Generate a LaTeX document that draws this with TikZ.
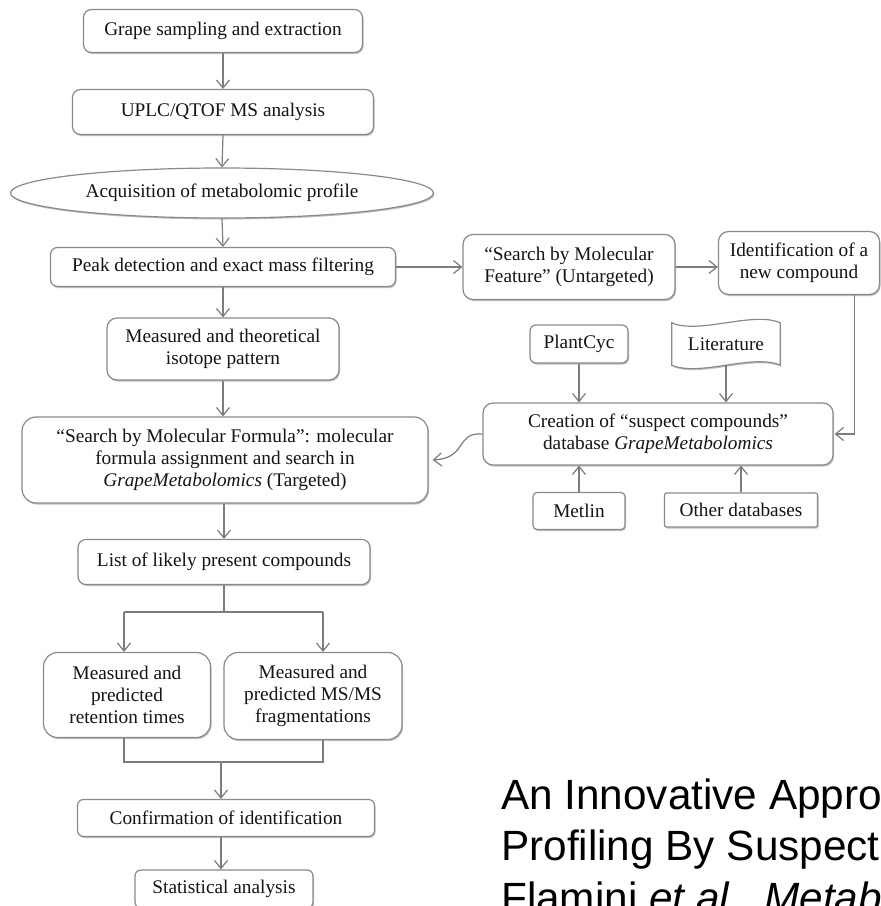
\documentclass[tikz,border=0pt]{standalone}
\usepackage{fontspec}
\setmainfont{Liberation Serif}
\newfontfamily\capfont{Liberation Sans}
\usetikzlibrary{arrows.meta,shapes.geometric,shadows}
\definecolor{boxcol}{RGB}{138,138,138}
\definecolor{linecol}{RGB}{125,125,125}
\definecolor{txtcol}{RGB}{20,20,20}
\tikzset{
  box/.style={draw=boxcol, line width=1.2pt, fill=white, rounded corners=8pt,
    align=center, inner sep=0pt, text=txtcol,
    drop shadow={shadow xshift=1pt, shadow yshift=-1.5pt, opacity=0.25, fill=black}},
  ln/.style={draw=linecol, line width=1.2pt},
  arr/.style={ln, -{Straight Barb[length=8pt,width=13pt,line width=1.2pt]}},
  captxt/.style={font=\capfont\fontsize{42.3}{52}\selectfont, anchor=base west, inner sep=0pt, text=black}
}
\begin{document}
\begin{tikzpicture}[x=1pt, y=-1pt, font=\fontsize{19.3}{22}\selectfont]
\useasboundingbox (0,0) rectangle (881,906);
\clip (0,0) rectangle (881,906);
\fill[white] (0,0) rectangle (881,906);

% main column
\node[box, minimum width=279pt, minimum height=43pt] (grape) at (223,31) {Grape sampling and extraction};
\node[box, minimum width=301pt, minimum height=45pt] (uplc) at (223,112) {UPLC/QTOF MS analysis};
\node[box, ellipse, rounded corners=0pt, minimum width=423pt, minimum height=50pt] (acq) at (222,193) {Acquisition of metabolomic profile};
\node[box, rounded corners=7pt, minimum width=345pt, minimum height=39pt] (peak) at (223,267) {Peak detection and exact mass filtering};
\node[box, rounded corners=10pt, minimum width=232pt, minimum height=62pt] (iso) at (223,349) {Measured and theoretical\\isotope pattern};
\node[box, rounded corners=14pt, minimum width=406pt, minimum height=86pt] (formula) at (225,460) {\textquotedblleft Search by Molecular Formula": molecular\\formula assignment and search in\\\textit{GrapeMetabolomics} (Targeted)};
\node[box, minimum width=292pt, minimum height=45pt] (list) at (224,562) {List of likely present compounds};
\node[box, rounded corners=14pt, minimum width=167pt, minimum height=85pt] (ret) at (127,695) {Measured and\\predicted\\retention times};
\node[box, rounded corners=14pt, minimum width=178pt, minimum height=87pt] (frag) at (313,696) {Measured and\\predicted MS/MS\\fragmentations};
\node[box, rounded corners=6pt, minimum width=297pt, minimum height=37pt] (conf) at (226,818) {Confirmation of identification};
\node[box, rounded corners=6pt, minimum width=178pt, minimum height=38pt] (stat) at (224,889) {Statistical analysis};

% right part
\node[box, rounded corners=10pt, minimum width=212pt, minimum height=65pt] (feature) at (569,267) {\textquotedblleft Search by Molecular\\Feature\textquotedblright\ (Untargeted)};
\node[box, rounded corners=10pt, minimum width=161pt, minimum height=63pt] (ident) at (799,263) {Identification of a\\new compound};
\node[box, rounded corners=6pt, minimum width=98pt, minimum height=38pt] (plant) at (579,344) {PlantCyc};
\node[inner sep=0pt, minimum width=108pt, minimum height=42pt, text=txtcol] (lit) at (726,344) {};
\draw[draw=boxcol, line width=1.2pt, fill=white,
      drop shadow={shadow xshift=1pt, shadow yshift=-1.5pt, opacity=0.25, fill=black}]
  (lit.north west) .. controls +(27,12) and +(-27,-12) .. (lit.north east)
  -- (lit.south east) .. controls +(-27,-12) and +(27,12) .. (lit.south west) -- cycle;
\node[text=txtcol] at (lit.center) {Literature};
\node[box, rounded corners=10pt, minimum width=350pt, minimum height=62pt] (creation) at (658,434) {Creation of \textquotedblleft suspect compounds\textquotedblright\\database \textit{GrapeMetabolomics}};
\node[box, rounded corners=4pt, minimum width=92pt, minimum height=37pt] (metlin) at (579,511) {Metlin};
\node[box, rounded corners=2pt, minimum width=153pt, minimum height=34pt] (other) at (741,510) {Other databases};

% main arrows
\draw[arr] (grape.south) -- (uplc.north);
\draw[arr] (uplc.south) -- (acq.north);
\draw[arr] (acq.south) -- (peak.north);
\draw[arr] (peak.south) -- (iso.north);
\draw[arr] (iso.south) -- (formula.north -| iso.south);
\draw[arr] (formula.south -| list.north) -- (list.north);

% split
\coordinate (sl) at (124,612);
\coordinate (sr) at (323,612);
\coordinate (ml) at (124,762);
\coordinate (mr) at (323,762);
\draw[ln] (list.south) -- (list.south |- sl);
\draw[ln] (sl) -- (sr);
\draw[arr] (sl) -- (sl |- ret.north);
\draw[arr] (sr) -- (sr |- frag.north);
\draw[ln] (sl |- ret.south) -- (ml) -- (mr) -- (sr |- frag.south);
\draw[arr] (ml -| 221,0) -- (conf.north -| 221,0);
\draw[arr] (conf.south -| 221,0) -- (stat.north -| 221,0);

% right arrows
\draw[arr] (peak.east) -- (feature.west);
\draw[arr] (feature.east) -- (feature.east -| ident.west);
\draw[arr] (plant.south) -- (plant.south |- creation.north);
\draw[arr] (lit.south) -- (lit.south |- creation.north);
\draw[arr] (metlin.north) -- (metlin.north |- creation.south);
\draw[arr] (other.north) -- (other.north |- creation.south);
\draw[arr] ([xshift=-26pt]ident.south east) |- ([xshift=1pt]creation.east);
\draw[arr] (creation.west) .. controls (455,432) and (468,458) .. ([xshift=4pt]formula.east);

% caption (clipped at the right and bottom edges, as in the reference)
\node[captxt] (cap1) at (501,809) {An Innovative Approach to Grape};
\node[captxt] (cap2) at (501,860) {Profiling By Suspect Screening};
\node[captxt] (cap3) at (501,912) {Flamini \textit{et al.}, \textit{Metabolomics}};
\end{tikzpicture}
\end{document}
